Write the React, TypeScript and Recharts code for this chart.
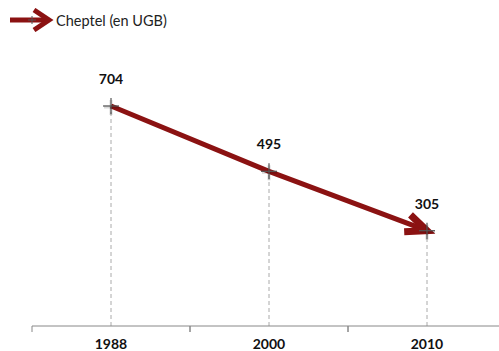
import { LineChart, Line, XAxis, YAxis, ReferenceLine, LabelList } from "recharts"

const years = ["1988", "2000", "2010"]
const cheptel = [704, 495, 305]
const seriesName = "Cheptel (en UGB)"

const data = years.map((year, i) => ({ year, value: cheptel[i] }))

const RED = "#8b1212"
const FONT = "Lato, 'Open Sans', sans-serif"

function CrossDot(props: any) {
  const { cx, cy } = props
  if (cx == null || cy == null) return null
  return (
    <g>
      <g stroke="#000" strokeOpacity={0.15} strokeWidth={3}>
        <line x1={cx - 7} y1={cy + 1} x2={cx + 8} y2={cy + 1} />
        <line x1={cx} y1={cy - 6} x2={cx} y2={cy + 9} />
      </g>
      <g stroke="#555" strokeWidth={1.2}>
        <line x1={cx - 8} y1={cy} x2={cx + 8} y2={cy} />
        <line x1={cx} y1={cy - 8} x2={cx} y2={cy + 8} />
      </g>
    </g>
  )
}

function YearTick(props: any) {
  const { x, y, payload } = props
  const half = payload?.offset ?? 0
  return (
    <g>
      <line x1={x - half} y1={y - 8} x2={x - half} y2={y - 2} stroke="#888" />
      <line x1={x + half} y1={y - 8} x2={x + half} y2={y - 2} stroke="#888" />
      <text
        x={x}
        y={y + 15}
        textAnchor="middle"
        fontFamily={FONT}
        fontWeight={700}
        fontSize={14}
        fill="#111"
      >
        {payload.value}
      </text>
    </g>
  )
}

export default function App() {
  return (
    <div
      style={{
        position: "relative",
        width: 499,
        height: 351,
        overflow: "hidden",
        background: "#fff",
      }}
    >
      <style>{"html,body{margin:0;padding:0;overflow:hidden}"}</style>
      <div
        style={{
          position: "absolute",
          left: 8,
          top: 8,
          display: "flex",
          alignItems: "center",
          gap: 2,
          fontFamily: FONT,
          fontSize: 14.5,
          color: "#222",
          zIndex: 2,
        }}
      >
        <svg width={46} height={24}>
          <line x1={2} y1={12} x2={38} y2={12} stroke={RED} strokeWidth={5} />
          <path d="M 26 2 L 41 12 L 26 22" fill="none" stroke={RED} strokeWidth={5} />
          <g stroke="#555" strokeWidth={1}>
            <line x1={20} y1={12} x2={28} y2={12} />
            <line x1={24} y1={8} x2={24} y2={16} />
          </g>
        </svg>
        <span>{seriesName}</span>
      </div>
      <LineChart
        width={520}
        height={351}
        data={data}
        margin={{ top: 76, right: 14, bottom: 0, left: 32 }}
      >
        <defs>
          <marker
            id="arrowHead"
            markerUnits="userSpaceOnUse"
            markerWidth={40}
            markerHeight={40}
            viewBox="-30 -20 40 40"
            refX={0}
            refY={0}
            orient="auto"
            overflow="visible"
          >
            <path
              d="M -21 -9 L 0 0 L -21 9"
              fill="none"
              stroke={RED}
              strokeWidth={7}
              strokeLinejoin="miter"
              strokeMiterlimit={6}
            />
          </marker>
        </defs>
        <XAxis
          dataKey="year"
          scale="band"
          height={25}
          stroke="#888"
          tickLine={false}
          tick={<YearTick />}
          interval={0}
        />
        <YAxis hide domain={[0, 800]} />
        {data.map((d) => (
          <ReferenceLine
            key={d.year}
            segment={[
              { x: d.year, y: 0 },
              { x: d.year, y: d.value },
            ]}
            stroke="#aaa"
            strokeDasharray="4 3"
            ifOverflow="visible"
          />
        ))}
        <Line
          name={seriesName}
          dataKey="value"
          stroke={RED}
          strokeWidth={5}
          type="linear"
          markerEnd="url(#arrowHead)"
          dot={<CrossDot />}
          activeDot={false}
          isAnimationActive={false}
        >
          <LabelList
            dataKey="value"
            position="top"
            offset={22}
            fontFamily={FONT}
            fontWeight={700}
            fontSize={14}
            fill="#111"
          />
        </Line>
      </LineChart>
    </div>
  )
}
